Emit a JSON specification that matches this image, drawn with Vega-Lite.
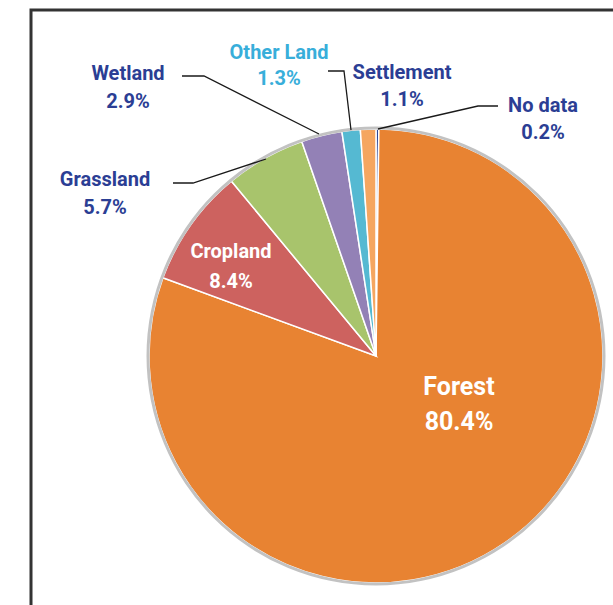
{
  "$schema": "https://vega.github.io/schema/vega-lite/v6.json",
  "width": 690,
  "height": 692,
  "autosize": "none",
  "padding": {"left": 31, "top": 10, "right": 0, "bottom": 0},
  "background": "white",
  "config": {
    "view": {"stroke": "#333333", "strokeWidth": 3},
    "text": {"font": "Roboto", "fontWeight": "bold", "align": "center", "baseline": "middle"}
  },
  "datasets": {
    "slices": [
      {"name": "No data", "pct": 0.2, "o": 1},
      {"name": "Forest", "pct": 80.4, "o": 2},
      {"name": "Cropland", "pct": 8.4, "o": 3},
      {"name": "Grassland", "pct": 5.7, "o": 4},
      {"name": "Wetland", "pct": 2.9, "o": 5},
      {"name": "Other Land", "pct": 1.3, "o": 6},
      {"name": "Settlement", "pct": 1.1, "o": 7}
    ],
    "leaders": [
      {"g": "Wetland", "i": 0, "X": -194, "Y": 280},
      {"g": "Wetland", "i": 1, "X": -172, "Y": 280},
      {"g": "Wetland", "i": 2, "X": -57, "Y": 222},
      {"g": "Other Land", "i": 0, "X": -48, "Y": 285},
      {"g": "Other Land", "i": 1, "X": -32, "Y": 285},
      {"g": "Other Land", "i": 2, "X": -25, "Y": 226},
      {"g": "No data", "i": 0, "X": 122, "Y": 250},
      {"g": "No data", "i": 1, "X": 102, "Y": 250},
      {"g": "No data", "i": 2, "X": 2, "Y": 227},
      {"g": "Grassland", "i": 0, "X": -203, "Y": 173},
      {"g": "Grassland", "i": 1, "X": -183, "Y": 173},
      {"g": "Grassland", "i": 2, "X": -110, "Y": 197}
    ],
    "labels": [
      {"t": "Wetland", "k": "blue", "X": -248, "Y": 282.5},
      {"t": "2.9%", "k": "blue", "X": -248, "Y": 254.5},
      {"t": "Other Land", "k": "cyan", "X": -97, "Y": 303},
      {"t": "1.3%", "k": "cyan", "X": -97, "Y": 277},
      {"t": "Settlement", "k": "blue", "X": 26, "Y": 283},
      {"t": "1.1%", "k": "blue", "X": 26, "Y": 256},
      {"t": "No data", "k": "blue", "X": 167, "Y": 250},
      {"t": "0.2%", "k": "blue", "X": 167, "Y": 223.5},
      {"t": "Grassland", "k": "blue", "X": -271, "Y": 176},
      {"t": "5.7%", "k": "blue", "X": -271, "Y": 148},
      {"t": "Cropland", "k": "crop", "X": -145, "Y": 104},
      {"t": "8.4%", "k": "crop", "X": -145, "Y": 74},
      {"t": "Forest", "k": "forest", "X": 83, "Y": -31},
      {"t": "80.4%", "k": "forest", "X": 83, "Y": -66}
    ]
  },
  "layer": [
    {
      "data": {"name": "slices"},
      "mark": {"type": "arc", "outerRadius": 227, "stroke": "white", "strokeWidth": 1.5},
      "encoding": {
        "theta": {"field": "pct", "type": "quantitative", "stack": true},
        "order": {"field": "o", "type": "quantitative"},
        "color": {
          "field": "name",
          "type": "nominal",
          "scale": {
            "domain": ["No data", "Forest", "Cropland", "Grassland", "Wetland", "Other Land", "Settlement"],
            "range": ["#2E4796", "#E88332", "#CD625F", "#A8C46C", "#9381B6", "#55B9D2", "#F5A660"]
          },
          "legend": null
        }
      }
    },
    {
      "data": {"values": [{"v": 1}]},
      "mark": {"type": "arc", "innerRadius": 226.5, "outerRadius": 229.5, "fill": "#C2C2C2"},
      "encoding": {
        "theta": {"field": "v", "type": "quantitative"}
      }
    },
    {
      "data": {"name": "leaders"},
      "mark": {"type": "line", "color": "#1A1A1A", "strokeWidth": 1.3},
      "encoding": {
        "x": {"field": "X", "type": "quantitative", "scale": {"domain": [-345, 345], "nice": false, "zero": false}, "axis": null},
        "y": {"field": "Y", "type": "quantitative", "scale": {"domain": [-346, 346], "nice": false, "zero": false}, "axis": null},
        "detail": {"field": "g"},
        "order": {"field": "i", "type": "quantitative"}
      }
    },
    {
      "data": {"name": "labels"},
      "transform": [{"filter": "datum.k == 'blue'"}],
      "mark": {"type": "text", "fontSize": 20, "color": "#2B3E94"},
      "encoding": {
        "x": {"field": "X", "type": "quantitative"},
        "y": {"field": "Y", "type": "quantitative"},
        "text": {"field": "t"}
      }
    },
    {
      "data": {"name": "labels"},
      "transform": [{"filter": "datum.k == 'cyan'"}],
      "mark": {"type": "text", "fontSize": 20, "color": "#38AEDA"},
      "encoding": {
        "x": {"field": "X", "type": "quantitative"},
        "y": {"field": "Y", "type": "quantitative"},
        "text": {"field": "t"}
      }
    },
    {
      "data": {"name": "labels"},
      "transform": [{"filter": "datum.k == 'crop'"}],
      "mark": {"type": "text", "fontSize": 20, "color": "white"},
      "encoding": {
        "x": {"field": "X", "type": "quantitative"},
        "y": {"field": "Y", "type": "quantitative"},
        "text": {"field": "t"}
      }
    },
    {
      "data": {"name": "labels"},
      "transform": [{"filter": "datum.k == 'forest'"}],
      "mark": {"type": "text", "fontSize": 25, "color": "white"},
      "encoding": {
        "x": {"field": "X", "type": "quantitative"},
        "y": {"field": "Y", "type": "quantitative"},
        "text": {"field": "t"}
      }
    }
  ],
  "resolve": {"scale": {"theta": "independent"}}
}
